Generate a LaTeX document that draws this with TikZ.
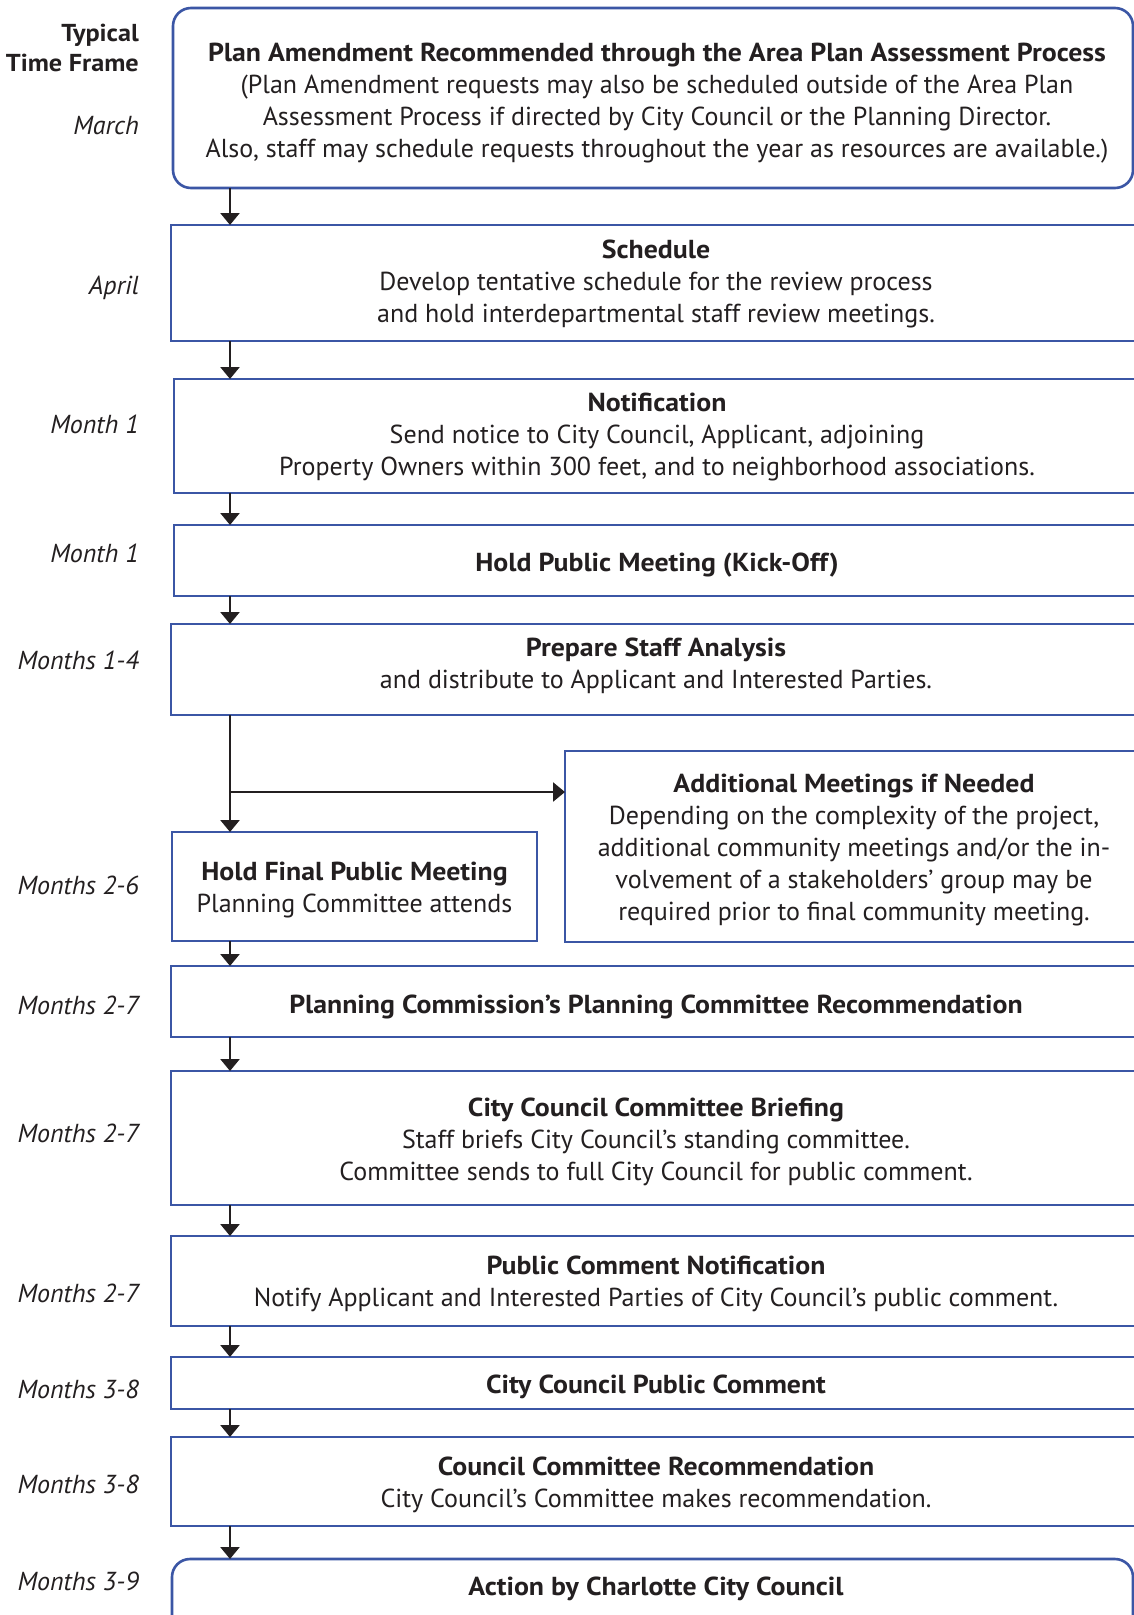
\documentclass[tikz,border=0pt]{standalone}
\usepackage{fontspec}
\setmainfont{PT Sans}[BoldFeatures={FakeStretch=1.07}]
\usetikzlibrary{arrows.meta}
\definecolor{bblue}{HTML}{3B56A5}
\definecolor{ink}{HTML}{231F20}
\newcommand\fsbody{\fontsize{26}{32}\selectfont}
\newcommand\fshead{\fontsize{24.5}{30}\selectfont}
\begin{document}
\begin{tikzpicture}[x=1pt,y=-1pt,
  box/.style={draw=bblue,line width=2.6pt,inner sep=0pt,outer sep=0pt,fill=white},
  rbox/.style={box,rounded corners=18pt},
  txt/.style={font=\fsbody,text=ink,inner sep=0pt,align=center},
  tlabel/.style={anchor=mid east,font=\fsbody\itshape,text=ink,inner sep=0pt},
  hlabel/.style={anchor=mid east,font=\fshead\bfseries,text=ink,inner sep=0pt},
  arr/.style={draw=ink,line width=2.5pt,-{Triangle[length=12pt,width=19pt]}}
]
\useasboundingbox (0,0) rectangle (1133,1615);
\fill[white] (0,0) rectangle (1133,1615);
\coordinate (ax) at (230,0);

% boxes
\node[rbox,minimum width=960pt,minimum height=180pt] (b1) at (653,98) {};
\node[box,minimum width=969pt,minimum height=116pt] (b2) at (655.5,283) {};
\node[box,minimum width=966pt,minimum height=114pt] (b3) at (657,436) {};
\node[box,minimum width=966pt,minimum height=71pt] (b4) at (657,560.5) {};
\node[box,minimum width=969pt,minimum height=91pt] (b5) at (655.5,669.5) {};
\node[box,minimum width=575pt,minimum height=191pt] (b6) at (852.5,846.5) {};
\node[box,minimum width=365pt,minimum height=109pt] (b7) at (354.5,886.5) {};
\node[box,minimum width=969pt,minimum height=71pt] (b8) at (655.5,1001.5) {};
\node[box,minimum width=969pt,minimum height=134pt] (b9) at (655.5,1138) {};
\node[box,minimum width=969pt,minimum height=90pt] (b10) at (655.5,1281) {};
\node[box,minimum width=969pt,minimum height=52pt] (b11) at (655.5,1383) {};
\node[box,minimum width=969pt,minimum height=89pt] (b12) at (655.5,1481.5) {};
\node[rbox,minimum width=961pt,minimum height=121pt] (b13) at (652.5,1619.5) {};

% box texts
\node[txt] (t1) at (657,103)
 {\textbf{Plan Amendment Recommended through the Area Plan Assessment Process}\\
  (Plan Amendment requests may also be scheduled outside of the Area Plan\\
  Assessment Process if directed by City Council or the Planning Director.\\
  Also, staff may schedule requests throughout the year as resources are available.)};
\node[txt] (t2) at (656,284)
 {\textbf{Schedule}\\Develop tentative schedule for the review process\\and hold interdepartmental staff review meetings.};
\node[txt] (t3) at (657,437)
 {\textbf{Notification}\\Send notice to City Council, Applicant, adjoining\\Property Owners within 300 feet, and to neighborhood associations.};
\node[txt] (t4) at (657,565.5)
 {\textbf{Hold Public Meeting (Kick-Off)}};
\node[txt] (t5) at (656,665.5)
 {\textbf{Prepare Staff Analysis}\\and distribute to Applicant and Interested Parties.};
\node[txt] (t6) at (854,849.5)
 {\textbf{Additional Meetings if Needed}\\Depending on the complexity of the project,\\additional community meetings and/or the in-\\volvement of a stakeholders’ group may be\\required prior to final community meeting.};
\node[txt] (t7) at (354.5,889.5)
 {\textbf{Hold Final Public Meeting}\\Planning Committee attends};
\node[txt] (t8) at (656,1006.5)
 {\textbf{Planning Commission’s Planning Committee Recommendation}};
\node[txt] (t9) at (656,1142)
 {\textbf{City Council Committee Briefing}\\Staff briefs City Council’s standing committee.\\Committee sends to full City Council for public comment.};
\node[txt] (t10) at (656,1284)
 {\textbf{Public Comment Notification}\\Notify Applicant and Interested Parties of City Council’s public comment.};
\node[txt] (t11) at (656,1387)
 {\textbf{City Council Public Comment}};
\node[txt] (t12) at (656,1484.5)
 {\textbf{Council Committee Recommendation}\\City Council’s Committee makes recommendation.};
\node[txt] (t13) at (656,1589) {\textbf{Action by Charlotte City Council}};

% time labels
\node[hlabel] (h1) at (139,39) {Typical};
\node[hlabel] (h2) at (139,69) {Time Frame};
\node[tlabel] (l1) at (139,132) {March};
\node[tlabel] (l2) at (139,292) {April};
\node[tlabel] (l3) at (139,431) {Month 1};
\node[tlabel] (l4) at (139,560) {Month 1};
\node[tlabel] (l5) at (139,667) {Months 1-4};
\node[tlabel] (l6) at (139,892) {Months 2-6};
\node[tlabel] (l7) at (139,1012) {Months 2-7};
\node[tlabel] (l8) at (139,1140) {Months 2-7};
\node[tlabel] (l9) at (139,1300) {Months 2-7};
\node[tlabel] (l10) at (139,1396) {Months 3-8};
\node[tlabel] (l11) at (139,1491) {Months 3-8};
\node[tlabel] (l12) at (139,1588) {Months 3-9};

% connectors
\draw[arr] (b1.south -| ax) -- (b2.north -| ax);
\draw[arr] (b2.south -| ax) -- (b3.north -| ax);
\draw[arr] (b3.south -| ax) -- (b4.north -| ax);
\draw[arr] (b4.south -| ax) -- (b5.north -| ax);
\coordinate (br) at (230,792);
\draw[arr] (b5.south -| ax) -- (b7.north -| ax);
\draw[arr] (br) -- (b6.west |- br);
\draw[arr] (b7.south -| ax) -- (b8.north -| ax);
\draw[arr] (b8.south -| ax) -- (b9.north -| ax);
\draw[arr] (b9.south -| ax) -- (b10.north -| ax);
\draw[arr] (b10.south -| ax) -- (b11.north -| ax);
\draw[arr] (b11.south -| ax) -- (b12.north -| ax);
\draw[arr] (b12.south -| ax) -- (b13.north -| ax);
\end{tikzpicture}
\end{document}
